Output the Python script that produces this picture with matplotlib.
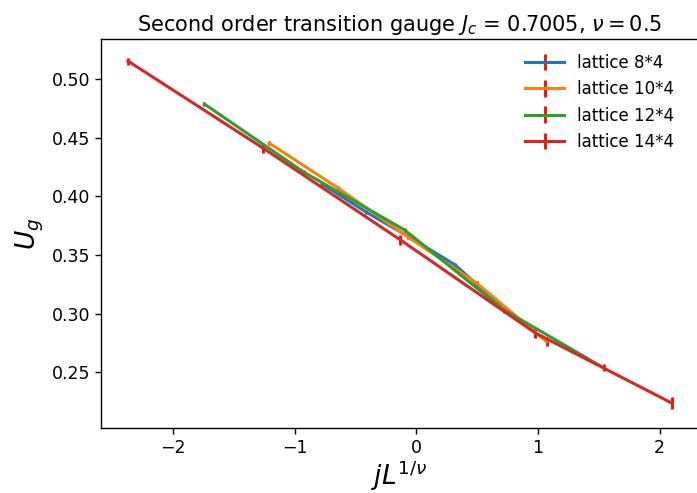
import matplotlib
matplotlib.use("Agg")
import matplotlib.pyplot as plt
import numpy as np

# J - Jc grid (shared), scaled by L^(1/nu) with nu = 0.5
nu = 0.5
Jc = 0.7005
dJ = [-0.01209, -0.00643, -0.00066, 0.00500, 0.01071]

lattices = [8, 10, 12, 14]
labels = ["lattice 8*4", "lattice 10*4", "lattice 12*4", "lattice 14*4"]
colors = ["#1f77b4", "#ff7f0e", "#2ca02c", "#d62728"]

U_8 = [0.4107, 0.3867, 0.3645, 0.3416, 0.3075]
U_10 = [0.4456, 0.4073, 0.3654, 0.3258, 0.2761]
U_12 = [0.4789, 0.4209, 0.3714, 0.3033, 0.2537]
U_14 = [0.5156, 0.4414, 0.3629, 0.2835, 0.2238]

err_8 = [0.002, 0.002, 0.002, 0.002, 0.002]
err_10 = [0.002, 0.002, 0.002, 0.002, 0.004]
err_12 = [0.002, 0.002, 0.002, 0.003, 0.003]
err_14 = [0.003, 0.004, 0.004, 0.004, 0.0055]

U_all = [U_8, U_10, U_12, U_14]
err_all = [err_8, err_10, err_12, err_14]

fig = plt.figure(figsize=(6.97, 4.93), dpi=100)
ax = fig.add_axes([101 / 697, (493 - 427.7) / 493, (698.5 - 101) / 697, (427.7 - 39) / 493])

for L, U, e, lab, c in zip(lattices, U_all, err_all, labels, colors):
    x = np.array(dJ) * L ** (1 / nu)
    ax.errorbar(x, U, yerr=e, color=c, ecolor="red", lw=2.2, elinewidth=2, label=lab)

ax.set_xlim(-2.591, 2.32)
ax.set_ylim(0.2027, 0.5344)
ax.set_xticks([-2, -1, 0, 1, 2])
ax.set_yticks([0.25, 0.30, 0.35, 0.40, 0.45, 0.50])
ax.tick_params(labelsize=12.5, length=4.4, width=1)
for s in ax.spines.values():
    s.set_linewidth(1)
ax.set_xlabel(r"$jL^{1/\nu}$", fontsize=19, labelpad=1)
ax.set_ylabel(r"$U_g$", fontsize=19)
ax.set_title(r"Second order transition gauge $J_c$ = 0.7005, $\nu=0.5$", fontsize=15)
ax.legend(frameon=False, fontsize=12, loc="upper right",
          bbox_to_anchor=(0.985, 1.0), handlelength=2.35, handletextpad=0.78,
          labelspacing=0.5)

fig.savefig("out.png", dpi=100)
